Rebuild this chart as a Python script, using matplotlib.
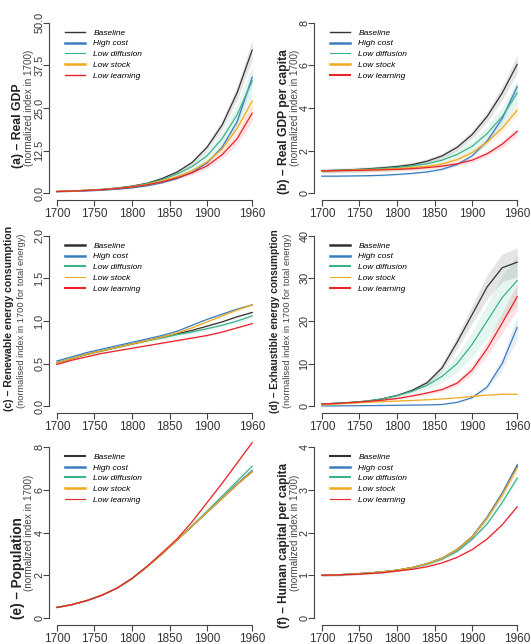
import numpy as np
import matplotlib.pyplot as plt
from matplotlib.lines import Line2D

plt.rcParams['font.family'] = ['Liberation Sans', 'DejaVu Sans']

years = np.arange(1700, 1961, 20)
scenarios = ["Baseline", "High cost", "Low diffusion", "Low stock", "Low learning"]
colors = ["#333333", "#3b7dbf", "#3cb38b", "#f2a91c", "#e8232a"]

# (a) real GDP, one row per scenario
gdp = [
    [0.5, 0.65, 0.85, 1.1, 1.5, 2.1, 2.9, 4.3, 6.2, 9.0, 13.5, 20.0, 29.5, 42.0],
    [0.42, 0.52, 0.66, 0.85, 1.15, 1.55, 2.15, 3.05, 4.3, 6.1, 8.9, 13.5, 21.0, 34.0],
    [0.5, 0.65, 0.85, 1.1, 1.5, 2.0, 2.8, 4.0, 5.6, 7.8, 11.0, 16.0, 23.0, 33.0],
    [0.5, 0.64, 0.83, 1.07, 1.4, 1.9, 2.6, 3.6, 4.9, 6.6, 9.2, 13.0, 19.0, 27.0],
    [0.5, 0.63, 0.8, 1.03, 1.35, 1.8, 2.45, 3.3, 4.5, 6.0, 8.0, 11.3, 16.0, 23.5],
]
gdp_spread = [0.07, 0.05, 0.13, 0.06, 0.1]

# (b) real GDP per capita
gdp_pc = [
    [1.05, 1.07, 1.1, 1.14, 1.19, 1.25, 1.34, 1.5, 1.75, 2.15, 2.75, 3.6, 4.7, 6.05],
    [0.8, 0.8, 0.81, 0.82, 0.84, 0.88, 0.93, 1.0, 1.12, 1.35, 1.75, 2.45, 3.5, 5.0],
    [1.05, 1.07, 1.09, 1.12, 1.16, 1.21, 1.28, 1.38, 1.55, 1.82, 2.2, 2.8, 3.6, 4.7],
    [1.05, 1.06, 1.08, 1.1, 1.12, 1.15, 1.2, 1.26, 1.37, 1.57, 1.9, 2.4, 3.05, 3.9],
    [1.05, 1.06, 1.07, 1.08, 1.1, 1.12, 1.15, 1.2, 1.27, 1.38, 1.55, 1.85, 2.3, 2.9],
]
gdp_pc_spread = [0.07, 0.05, 0.12, 0.06, 0.07]

# (c) renewable energy consumption
renew = [
    [0.51, 0.56, 0.61, 0.65, 0.69, 0.73, 0.77, 0.81, 0.85, 0.89, 0.94, 0.99, 1.05, 1.1],
    [0.53, 0.58, 0.63, 0.67, 0.71, 0.75, 0.79, 0.83, 0.88, 0.95, 1.02, 1.08, 1.14, 1.19],
    [0.51, 0.56, 0.61, 0.65, 0.69, 0.73, 0.77, 0.8, 0.84, 0.87, 0.91, 0.95, 1.0, 1.06],
    [0.51, 0.56, 0.61, 0.65, 0.69, 0.73, 0.77, 0.81, 0.86, 0.92, 0.99, 1.06, 1.13, 1.19],
    [0.49, 0.54, 0.58, 0.62, 0.65, 0.68, 0.71, 0.74, 0.77, 0.8, 0.83, 0.87, 0.92, 0.97],
]
renew_spread = [0.01, 0.01, 0.02, 0.01, 0.01]

# (d) exhaustible energy consumption
exhaust = [
    [0.5, 0.7, 0.9, 1.2, 1.7, 2.5, 3.7, 5.5, 9.0, 15.0, 21.5, 28.0, 32.5, 33.8],
    [0.05, 0.07, 0.1, 0.13, 0.17, 0.2, 0.25, 0.3, 0.4, 0.9, 2.0, 4.5, 10.0, 18.5],
    [0.5, 0.7, 0.9, 1.2, 1.7, 2.5, 3.5, 4.9, 7.0, 10.0, 14.5, 20.0, 25.5, 29.5],
    [0.3, 0.5, 0.7, 0.9, 1.05, 1.2, 1.35, 1.5, 1.7, 1.95, 2.3, 2.6, 2.8, 2.8],
    [0.5, 0.65, 0.85, 1.1, 1.4, 1.8, 2.4, 3.1, 3.9, 5.4, 8.5, 13.5, 19.5, 25.7],
]
exhaust_spread = [0.1, 0.15, 0.2, 0.03, 0.12]

# (e) population
population = [
    [0.5, 0.63, 0.82, 1.07, 1.4, 1.85, 2.4, 3.0, 3.65, 4.3, 4.95, 5.6, 6.25, 6.85],
    [0.5, 0.63, 0.82, 1.07, 1.4, 1.85, 2.4, 3.0, 3.65, 4.3, 4.97, 5.62, 6.28, 6.9],
    [0.5, 0.63, 0.82, 1.07, 1.4, 1.85, 2.4, 3.0, 3.66, 4.32, 5.0, 5.7, 6.4, 7.1],
    [0.5, 0.63, 0.82, 1.07, 1.4, 1.85, 2.4, 3.0, 3.65, 4.3, 4.95, 5.6, 6.25, 6.85],
    [0.5, 0.63, 0.82, 1.07, 1.4, 1.85, 2.42, 3.05, 3.7, 4.5, 5.4, 6.3, 7.25, 8.2],
]
population_spread = [0.005, 0.005, 0.005, 0.005, 0.005]

# (f) human capital per capita
human = [
    [1.0, 1.01, 1.03, 1.05, 1.08, 1.12, 1.18, 1.27, 1.4, 1.6, 1.9, 2.35, 2.9, 3.55],
    [1.0, 1.01, 1.03, 1.05, 1.08, 1.12, 1.18, 1.27, 1.4, 1.6, 1.9, 2.36, 2.92, 3.58],
    [1.0, 1.01, 1.03, 1.05, 1.08, 1.12, 1.18, 1.26, 1.38, 1.56, 1.84, 2.2, 2.7, 3.27],
    [1.0, 1.01, 1.03, 1.05, 1.08, 1.12, 1.18, 1.27, 1.4, 1.6, 1.9, 2.34, 2.88, 3.52],
    [1.0, 1.01, 1.02, 1.04, 1.06, 1.1, 1.14, 1.2, 1.29, 1.42, 1.6, 1.85, 2.18, 2.6],
]
human_spread = [0.03, 0.01, 0.02, 0.01, 0.01]

xticks = [1700, 1750, 1800, 1850, 1900, 1960]

W, H = 531, 644
fig = plt.figure(figsize=(W / 100, H / 100), dpi=100)
fig.patch.set_facecolor("white")

col_left = [49, 314]
rows = [(16, 200), (229, 413), (440, 625)]
ax_w = 211
# x of the bold title line and of the grey subtitle line, per row (px from column start)
label_x = [(18.5, 29.5), (9.5, 22), (18.5, 29.5)]

# series, spread, y ticks, tick labels, title, subtitle, title centre (px), title size, subtitle size, legend widths
panels = [
    (gdp, gdp_spread, [0, 12.5, 25, 37.5, 50], ["0.0", "12.5", "25.0", "37.5", "50.0"],
     "(a) – Real GDP", "(normalized index in 1700)", 126, 8.8, 7.1, [1.0, 1.8, 0.8, 1.8, 1.0]),
    (gdp_pc, gdp_pc_spread, [0, 2, 4, 6, 8], ["0", "2", "4", "6", "8"],
     "(b) – Real GDP per capita", "(normalized index in 1700)", 122, 8.7, 7.1, [1.0, 1.8, 0.8, 1.8, 1.5]),
    (renew, renew_spread, [0, 0.5, 1.0, 1.5, 2.0], ["0.0", "0.5", "1.0", "1.5", "2.0"],
     "(c) – Renewable energy consumption", "(normalised index in 1700 for total energy)", 318,
     7.6, 6.7, [1.8, 1.8, 1.5, 0.8, 1.5]),
    (exhaust, exhaust_spread, [0, 10, 20, 30, 40], ["0", "10", "20", "30", "40"],
     "(d) – Exhaustible energy consumption", "(normalised index in 1700 for total energy)", 321,
     7.3, 6.7, [1.8, 1.8, 1.5, 0.8, 1.5]),
    (population, population_spread, [0, 2, 4, 6, 8], ["0", "2", "4", "6", "8"],
     "(e) – Population", "(normalized index in 1700)", 568, 9.8, 7.1, [1.5, 1.8, 1.5, 1.8, 0.8]),
    (human, human_spread, [0, 1, 2, 3, 4], ["0", "1", "2", "3", "4"],
     "(f) – Human capital per capita", "(normalized index in 1700)", 545, 8.5, 7.1, [1.5, 1.8, 1.5, 1.8, 0.8]),
]

for i, (series, spread, yt, ytl, title, sub, title_y, t_size, s_size, leg_lw) in enumerate(panels):
    r, c = divmod(i, 2)
    top, bot = rows[r]
    left = col_left[c]
    ax = fig.add_axes([left / W, 1 - bot / H, ax_w / W, (bot - top) / H])

    for vals, s, col in zip(series, spread, colors):
        v = np.array(vals)
        ax.fill_between(years, v * (1 - s), v * (1 + s), color=col, alpha=0.13, lw=0)
    for vals, col in zip(series, colors):
        ax.plot(years, vals, color=col, lw=0.9)

    xpad = 0.04 * (xticks[-1] - xticks[0])
    ypad = 0.04 * (yt[-1] - yt[0])
    ax.set_xlim(xticks[0] - xpad, xticks[-1] + xpad)
    ax.set_ylim(yt[0] - ypad, yt[-1] + ypad)

    for side in ["top", "right"]:
        ax.spines[side].set_visible(False)
    ax.spines["left"].set_bounds(yt[0], yt[-1])
    ax.spines["bottom"].set_bounds(xticks[0], xticks[-1])
    for side in ["left", "bottom"]:
        ax.spines[side].set_color("#444444")
        ax.spines[side].set_linewidth(0.8)

    ax.set_xticks(xticks)
    ax.set_yticks(yt)
    ax.set_yticklabels(ytl, rotation=90, va="center", fontsize=7.8,
                       family=["Liberation Sans Narrow", "Liberation Sans"])
    ax.tick_params(length=4, width=0.8, color="#444444")
    ax.tick_params(axis="x", labelsize=8.5, labelcolor="#333333", pad=1.5)
    ax.tick_params(axis="y", labelcolor="#333333", pad=-0.6)

    handles = [Line2D([], [], color=col, lw=w) for col, w in zip(colors, leg_lw)]
    ax.legend(handles, scenarios, loc="upper left", bbox_to_anchor=(0.076, 0.93),
              frameon=False, prop=dict(size=6, style="italic"), handlelength=2.4,
              handletextpad=1.0, labelspacing=0.35, borderpad=0, borderaxespad=0)

    xoff = 0 if c == 0 else 265
    bx, gx = label_x[r]
    fig.text((xoff + bx) / W, 1 - title_y / H, title, rotation=90, ha="center",
             va="center", fontsize=t_size, fontweight="bold", color="#222222")
    fig.text((xoff + gx) / W, 1 - ((top + bot) / 2) / H, sub, rotation=90, ha="center",
             va="center", fontsize=s_size, color="#444444")

fig.savefig("out.png", dpi=100)
